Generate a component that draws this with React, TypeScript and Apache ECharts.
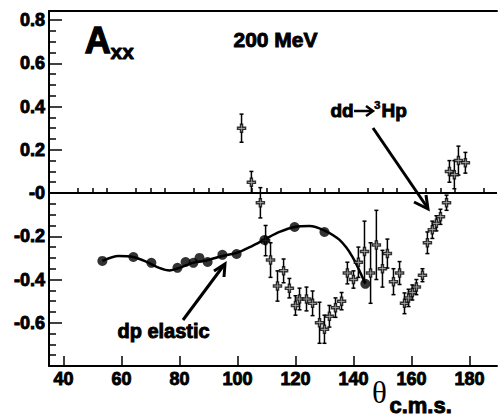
import React, { useEffect, useRef } from "react";
import * as echarts from "echarts";

// dp elastic data (filled circles)
const dpTheta = [53.4, 64.1, 70.3, 79.3, 82.1, 84.8, 86.9, 89.7, 94.8, 99.7, 109.3, 119.7, 130.0, 144.1];
const dpAxx = [-0.314, -0.296, -0.323, -0.346, -0.319, -0.323, -0.3, -0.319, -0.286, -0.282, -0.217, -0.157, -0.18, -0.42];

// theory curve
const curveTheta = [53.4, 59.0, 64.0, 68.6, 73.0, 76.6, 80.0, 84.5, 89.3, 94.8, 99.7, 105.0, 109.7, 114.5, 119.7, 124.8, 129.7, 135.2, 139.7, 144.1];
const curveAxx = [-0.314, -0.291, -0.296, -0.318, -0.346, -0.358, -0.346, -0.323, -0.312, -0.291, -0.277, -0.245, -0.212, -0.18, -0.157, -0.152, -0.171, -0.217, -0.296, -0.42];

// dd -> 3He p data (open markers with error bars)
const ddTheta = [101.4, 104.8, 107.9, 109.7, 111.4, 113.8, 115.9, 117.9, 120.0, 121.4, 123.8, 125.9, 128.3, 130.0, 131.7, 133.8, 135.9, 137.9, 140.0, 141.7, 143.8, 145.9, 147.9, 150.0, 151.7, 153.8, 155.9, 157.6, 159.0, 160.3, 161.7, 163.8, 165.5, 167.2, 168.6, 170.0, 172.1, 173.1, 174.8, 176.2, 178.6];
const ddAxx = [0.3, 0.05, -0.045, -0.22, -0.31, -0.43, -0.36, -0.44, -0.52, -0.49, -0.49, -0.51, -0.6, -0.63, -0.57, -0.53, -0.5, -0.37, -0.4, -0.32, -0.27, -0.37, -0.24, -0.35, -0.28, -0.41, -0.37, -0.51, -0.485, -0.46, -0.435, -0.38, -0.23, -0.17, -0.14, -0.11, -0.045, 0.1, 0.085, 0.15, 0.14];
const ddErr = [0.065, 0.05, 0.07, 0.07, 0.08, 0.07, 0.055, 0.045, 0.045, 0.05, 0.055, 0.057, 0.095, 0.065, 0.05, 0.045, 0.04, 0.05, 0.04, 0.07, 0.14, 0.14, 0.16, 0.085, 0.067, 0.06, 0.053, 0.048, 0.04, 0.035, 0.035, 0.03, 0.05, 0.04, 0.035, 0.035, 0.035, 0.05, 0.065, 0.067, 0.048];

const xMajorTicks = [40, 60, 80, 100, 120, 140, 160, 180];
const xMinorTicks = [35, 45, 50, 55, 65, 70, 75, 85, 90, 95, 105, 110, 115, 125, 130, 135, 145, 150, 155, 165, 170, 175, 185];
const yTickValues = [-0.6, -0.4, -0.2, 0, 0.2, 0.4, 0.6, 0.8];
const yTickLabels = ["-0.6", "-0.4", "-0.2", "-0", "0.2", "0.4", "0.6", "0.8"];

const FONT = "'Liberation Sans', Arial, sans-serif";

export default function App() {
  const ref = useRef<HTMLDivElement>(null);
  useEffect(() => {
    document.body.style.margin = "0";
    const chart = echarts.init(ref.current!, null, { renderer: "svg" });
    const plus = "path://M3,0 H5 V3 H8 V5 H5 V8 H3 V5 H0 V3 H3 Z";
    const ddData = ddTheta.map((t, i) => [t, ddAxx[i], ddErr[i]]);
    const heavy = (text: string, left: number, top: number, size: number, extra: any = {}) => ({
      type: "text", left, top,
      style: { text, font: `bold ${size}px ${FONT}`, fill: "#000", stroke: "#000", lineWidth: 0.9, ...extra },
    });
    const option: any = {
      animation: false,
      backgroundColor: "#ffffff",
      grid: { left: 49, top: 11, right: 2, bottom: 51, containLabel: false },
      xAxis: [
        {
          type: "value", min: 35, max: 189.5, position: "bottom",
          axisLine: { show: true, onZero: false, lineStyle: { color: "#000", width: 2 } },
          axisTick: { show: true, inside: true, length: 10, customValues: xMajorTicks, lineStyle: { color: "#000", width: 1.5 } },
          axisLabel: {
            customValues: xMajorTicks, color: "#000", fontSize: 18, fontWeight: "bold", fontFamily: FONT, margin: 4,
            textBorderColor: "#000", textBorderWidth: 0.9,
          },
          splitLine: { show: false },
        },
        {
          type: "value", min: 35, max: 189.5, position: "bottom",
          axisLine: { show: false },
          axisTick: { show: true, inside: true, length: 5, customValues: xMinorTicks, lineStyle: { color: "#000", width: 1.5 } },
          axisLabel: { show: false },
          splitLine: { show: false },
        },
        {
          type: "value", min: 35, max: 189.5, position: "top",
          axisLine: { show: true, onZero: false, lineStyle: { color: "#000", width: 2 } },
          axisTick: { show: false },
          axisLabel: { show: false },
          splitLine: { show: false },
        },
      ],
      yAxis: {
        type: "value", min: -0.8, max: 0.842, interval: 0.2,
        axisLine: { show: true, onZero: false, lineStyle: { color: "#000", width: 2 } },
        axisTick: { show: true, inside: true, length: 13, lineStyle: { color: "#000", width: 1.5 } },
        minorTick: { show: true, splitNumber: 4, length: 7, lineStyle: { color: "#000", width: 1.5 } },
        axisLabel: {
          color: "#000", fontSize: 18, fontWeight: "bold", fontFamily: FONT, margin: 4,
          textBorderColor: "#000", textBorderWidth: 0.9,
          formatter: (v: number) => {
            const idx = yTickValues.findIndex((t) => Math.abs(t - v) < 1e-6);
            return idx >= 0 ? yTickLabels[idx] : "";
          },
        },
        splitLine: { show: false },
      },
      series: [
        {
          type: "line", data: curveTheta.map((t, i) => [t, curveAxx[i]]), smooth: 0.3,
          showSymbol: false, symbol: "none", lineStyle: { color: "#000", width: 2.5 }, z: 2,
          markLine: {
            silent: true, symbol: "none", label: { show: false },
            lineStyle: { color: "#000", width: 2, type: "solid" },
            data: [{ yAxis: 0 }],
          },
        },
        {
          type: "custom", data: ddData, z: 3,
          renderItem: (params: any, api: any) => {
            const x = api.value(0), y = api.value(1), e = api.value(2);
            const top = api.coord([x, y + e]);
            const bot = api.coord([x, y - e]);
            const st = { stroke: "#000", lineWidth: 1.5 };
            return {
              type: "group",
              children: [
                { type: "line", shape: { x1: top[0], y1: top[1], x2: bot[0], y2: bot[1] }, style: st },
                { type: "line", shape: { x1: top[0] - 2, y1: top[1], x2: top[0] + 2, y2: top[1] }, style: st },
                { type: "line", shape: { x1: bot[0] - 2, y1: bot[1], x2: bot[0] + 2, y2: bot[1] }, style: st },
              ],
            };
          },
        },
        {
          type: "scatter", data: ddData.map((d) => [d[0], d[1]]), symbol: plus, symbolSize: 8, z: 4,
          itemStyle: { color: "#fff", borderColor: "#000", borderWidth: 1.5 },
        },
        {
          type: "scatter", data: dpTheta.map((t, i) => [t, dpAxx[i]]), symbol: "circle", symbolSize: 10, z: 5,
          itemStyle: { color: "#000" },
        },
      ],
      graphic: [
        heavy("A", 84, 22, 36, { lineWidth: 1.3 }),
        heavy("xx", 110, 41, 21),
        heavy("200 MeV", 233, 29, 21),
        heavy("dd", 330, 101, 19),
        heavy("3", 374, 99, 11, { lineWidth: 0.6 }),
        heavy("Hp", 381, 101, 19),
        heavy("dp elastic", 117, 321, 20),
        { type: "text", left: 372, top: 377, style: { text: "θ", font: `31px 'Liberation Serif', 'DejaVu Serif', serif`, fill: "#000" } },
        heavy("c.m.s.", 389, 394, 22),
        // small arrow inside "dd→3Hp"
        { type: "line", shape: { x1: 354, y1: 111, x2: 372, y2: 111 }, style: { stroke: "#000", lineWidth: 2.5 } },
        { type: "polyline", shape: { points: [[366, 106], [373, 111], [366, 116]] }, style: { stroke: "#000", lineWidth: 2.5, fill: "none" } },
        // annotation arrows
        { type: "line", shape: { x1: 183, y1: 320, x2: 224, y2: 265 }, style: { stroke: "#000", lineWidth: 3 } },
        { type: "polyline", shape: { points: [[214, 271], [225, 264], [224, 277]] }, style: { stroke: "#000", lineWidth: 3, fill: "none" } },
        { type: "line", shape: { x1: 373, y1: 128, x2: 427, y2: 207 }, style: { stroke: "#000", lineWidth: 3 } },
        { type: "polyline", shape: { points: [[414, 202], [428, 209], [426, 195]] }, style: { stroke: "#000", lineWidth: 3, fill: "none" } },
      ],
    };
    chart.setOption(option);
    return () => chart.dispose();
  }, []);
  return <div ref={ref} style={{ width: 499, height: 417 }} />;
}
